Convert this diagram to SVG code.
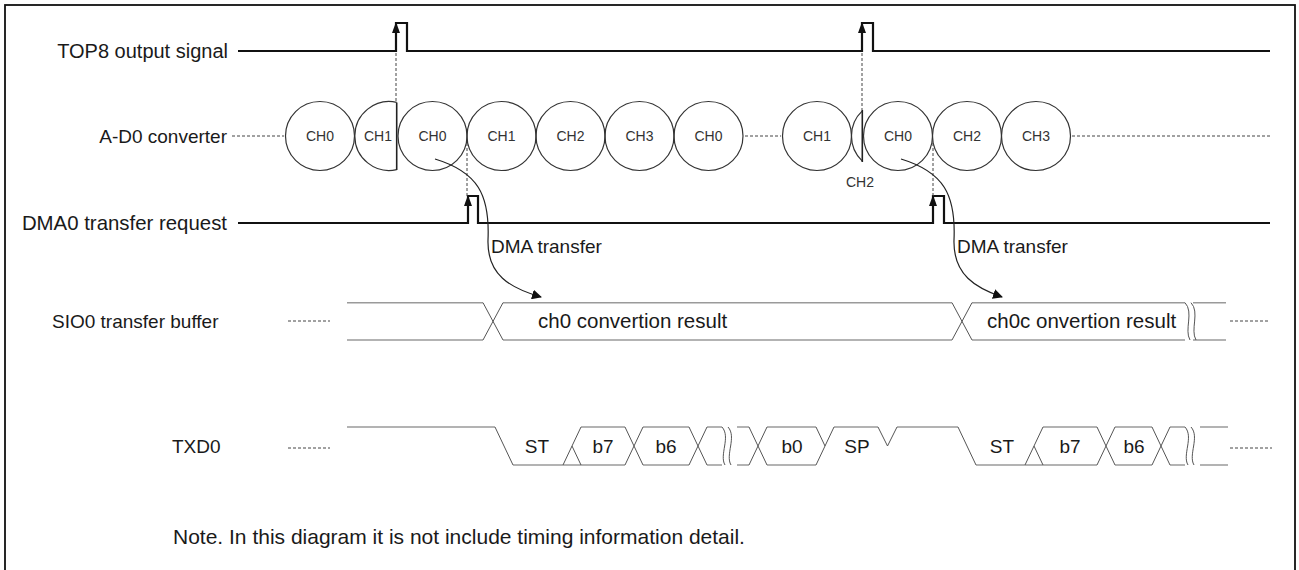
<svg xmlns="http://www.w3.org/2000/svg" width="1299" height="570" viewBox="0 0 1299 570">
  <defs>
    <style>
      .lbl { font-family: "Liberation Sans", Arial, sans-serif; font-size: 19px; fill: #1a1a1a; }
      .ch { font-family: "Liberation Sans", Arial, sans-serif; font-size: 14px; fill: #333; text-anchor: middle; }
      .sig { stroke: #111; stroke-width: 2.2; fill: none; }
      .circ { stroke: #333; stroke-width: 1.2; fill: none; }
      .cut { stroke: #222; stroke-width: 1.6; fill: none; }
      .bus { stroke: #9a9a9a; stroke-width: 1.6; fill: none; }
      .edge { stroke: #555; stroke-width: 1; fill: none; }
      .dot { stroke: #444; stroke-width: 1; stroke-dasharray: 3 2; fill: none; }
      .flow { stroke: #222; stroke-width: 1.2; fill: none; }
    </style>
    <marker id="tip" viewBox="0 0 10 10" refX="9" refY="5" markerWidth="10" markerHeight="10" markerUnits="userSpaceOnUse" orient="auto">
      <path d="M0,0 L10,5 L0,10 Z" fill="#111"/>
    </marker>
  </defs>

  <!-- frame -->
  <rect x="5" y="5" width="1290" height="600" fill="#fff" stroke="#111" stroke-width="1.8"/>

  <!-- signal names -->
  <g id="labels">
    <text class="lbl" x="228" y="58" text-anchor="end" style="font-size:20px">TOP8 output signal</text>
    <text class="lbl" x="227" y="143" text-anchor="end">A-D0 converter</text>
    <text class="lbl" x="227" y="230" text-anchor="end" style="font-size:20.4px">DMA0 transfer request</text>
    <text class="lbl" x="52" y="328">SIO0 transfer buffer</text>
    <text class="lbl" x="172" y="453">TXD0</text>
    <text class="lbl" x="173" y="544" style="font-size:21px">Note. In this diagram it is not include timing information detail.</text>
  </g>

  <!-- TOP8 output signal -->
  <g id="top8">
    <path class="sig" d="M238 51 H396 V23 H407 V51 H862 V23 H873 V51 H1270"/>
    <path d="M396 22 L392 33 L400 33 Z" fill="#111"/>
    <path d="M862 22 L858 33 L866 33 Z" fill="#111"/>
  </g>

  <!-- A-D0 conversion sequence -->
  <g id="adc">
    <line class="dot" x1="232" y1="136" x2="284" y2="136"/>
    <circle class="circ" cx="320" cy="136" r="34.5"/>
    <path class="circ" d="M396.7 102.3 A34.5 34.5 0 1 0 396.7 169.7"/>
    <line class="cut" x1="396.7" y1="102.5" x2="396.7" y2="170"/>
    <circle class="circ" cx="432.5" cy="136" r="34.5"/>
    <circle class="circ" cx="501.5" cy="136" r="34.5"/>
    <circle class="circ" cx="570.5" cy="136" r="34.5"/>
    <circle class="circ" cx="639.5" cy="136" r="34.5"/>
    <circle class="circ" cx="708.5" cy="136" r="34.5"/>
    <line class="dot" x1="745" y1="136" x2="781" y2="136"/>
    <circle class="circ" cx="817" cy="136" r="34.5"/>
    <path class="circ" d="M862.3 110.9 A34.5 34.5 0 0 0 862.3 161.1"/>
    <line class="cut" x1="862.3" y1="110" x2="862.3" y2="162"/>
    <circle class="circ" cx="898" cy="136" r="34.5"/>
    <circle class="circ" cx="967" cy="136" r="34.5"/>
    <circle class="circ" cx="1036" cy="136" r="34.5"/>
    <line class="dot" x1="1072" y1="136" x2="1270" y2="136"/>
    <text class="ch" x="320" y="141">CH0</text>
    <text class="ch" x="378" y="141">CH1</text>
    <text class="ch" x="432.5" y="141">CH0</text>
    <text class="ch" x="501.5" y="141">CH1</text>
    <text class="ch" x="570.5" y="141">CH2</text>
    <text class="ch" x="639.5" y="141">CH3</text>
    <text class="ch" x="708.5" y="141">CH0</text>
    <text class="ch" x="817" y="141">CH1</text>
    <text class="ch" x="898" y="141">CH0</text>
    <text class="ch" x="967" y="141">CH2</text>
    <text class="ch" x="1036" y="141">CH3</text>
    <text class="ch" x="860" y="187">CH2</text>
  </g>

  <!-- DMA0 transfer request -->
  <g id="dma0">
    <path class="sig" d="M238 223 H468 V196 H478 V223 H933 V196 H944 V223 H1270"/>
    <path d="M468 195 L464 206 L472 206 Z" fill="#111"/>
    <path d="M933 195 L929 206 L937 206 Z" fill="#111"/>
    <text class="lbl" x="491" y="253">DMA transfer</text>
    <text class="lbl" x="957" y="253">DMA transfer</text>
  </g>

  <!-- SIO0 transfer buffer -->
  <g id="sio0">
    <line class="dot" x1="288" y1="321" x2="330" y2="321"/>
    <path class="bus" d="M347 302.7 H483 M503 302.7 H952 M972 302.7 H1185 M1193 302.7 H1226"/>
    <path class="bus" d="M347 340 H483 M503 340 H952 M972 340 H1185 M1193 340 H1226"/>
    <path class="edge" d="M483 302.7 L503 340 M483 340 L503 302.7 M952 302.7 L972 340 M952 340 L972 302.7"/>
    <path class="edge" d="M1185 302.7 C1194 312 1184 330 1190 340 M1191 302.7 C1200 312 1190 330 1196 340"/>
    <line class="dot" x1="1230" y1="321" x2="1270" y2="321"/>
    <text class="lbl" x="538" y="328" style="font-size:20.5px">ch0 convertion result</text>
    <text class="lbl" x="987" y="328" style="font-size:20.5px">ch0c onvertion result</text>
  </g>

  <!-- TXD0 serial output -->
  <g id="txd0">
    <line class="dot" x1="288" y1="448" x2="330" y2="448"/>
    <path class="bus" d="M347 427 H495 M581 427 H625 M643 427 H689 M707 427 H722 M737 427 H749 M767 427 H816 M834 427 H878 M897 427 H958 M1043 427 H1097 M1115 427 H1152 M1170 427 H1185 M1200 427 H1228"/>
    <path class="bus" d="M513 465 H625 M643 465 H689 M707 465 H722 M737 465 H749 M767 465 H816 M976 465 H1097 M1115 465 H1152 M1170 465 H1185 M1200 465 H1228"/>
    <path class="edge" d="M495 427 L513 465 M563 465 L581 427 M572 446 L581 465 M625 427 L643 465 M625 465 L643 427 M689 427 L707 465 M689 465 L707 427 M749 427 L767 465 M749 465 L767 427 M816 465 L834 427 M816 427 L825 446 M878 427 L887.5 446 L897 427 M958 427 L976 465 M1025 465 L1043 427 M1034 446 L1043 465 M1097 427 L1115 465 M1097 465 L1115 427 M1152 427 L1170 465 M1152 465 L1170 427"/>
    <path class="edge" d="M722 427 C731 437 719 455 725 465 M728 427 C737 437 725 455 731 465 M1185 427 C1194 437 1182 455 1188 465 M1191 427 C1200 437 1188 455 1194 465"/>
    <line class="dot" x1="1230" y1="448" x2="1272" y2="448"/>
    <text class="lbl" x="537" y="453" text-anchor="middle">ST</text>
    <text class="lbl" x="603" y="453" text-anchor="middle">b7</text>
    <text class="lbl" x="666" y="453" text-anchor="middle">b6</text>
    <text class="lbl" x="792" y="453" text-anchor="middle">b0</text>
    <text class="lbl" x="857" y="453" text-anchor="middle">SP</text>
    <text class="lbl" x="1002" y="453" text-anchor="middle">ST</text>
    <text class="lbl" x="1070" y="453" text-anchor="middle">b7</text>
    <text class="lbl" x="1134" y="453" text-anchor="middle">b6</text>
  </g>

  <!-- DMA transfer paths -->
  <g id="connectors">
    <line class="dot" x1="396" y1="53" x2="396" y2="102"/>
    <line class="dot" x1="862" y1="53" x2="862" y2="110"/>
    <line class="dot" x1="467" y1="143" x2="467" y2="196"/>
    <line class="dot" x1="933" y1="143" x2="933" y2="196"/>
    <path class="flow" marker-end="url(#tip)" d="M435 159 C478 172 490 195 488 240 C487 275 510 288 541 297"/>
    <path class="flow" marker-end="url(#tip)" d="M901 159 C944 172 956 195 954 240 C953 275 976 288 1002 297"/>
  </g>
</svg>
